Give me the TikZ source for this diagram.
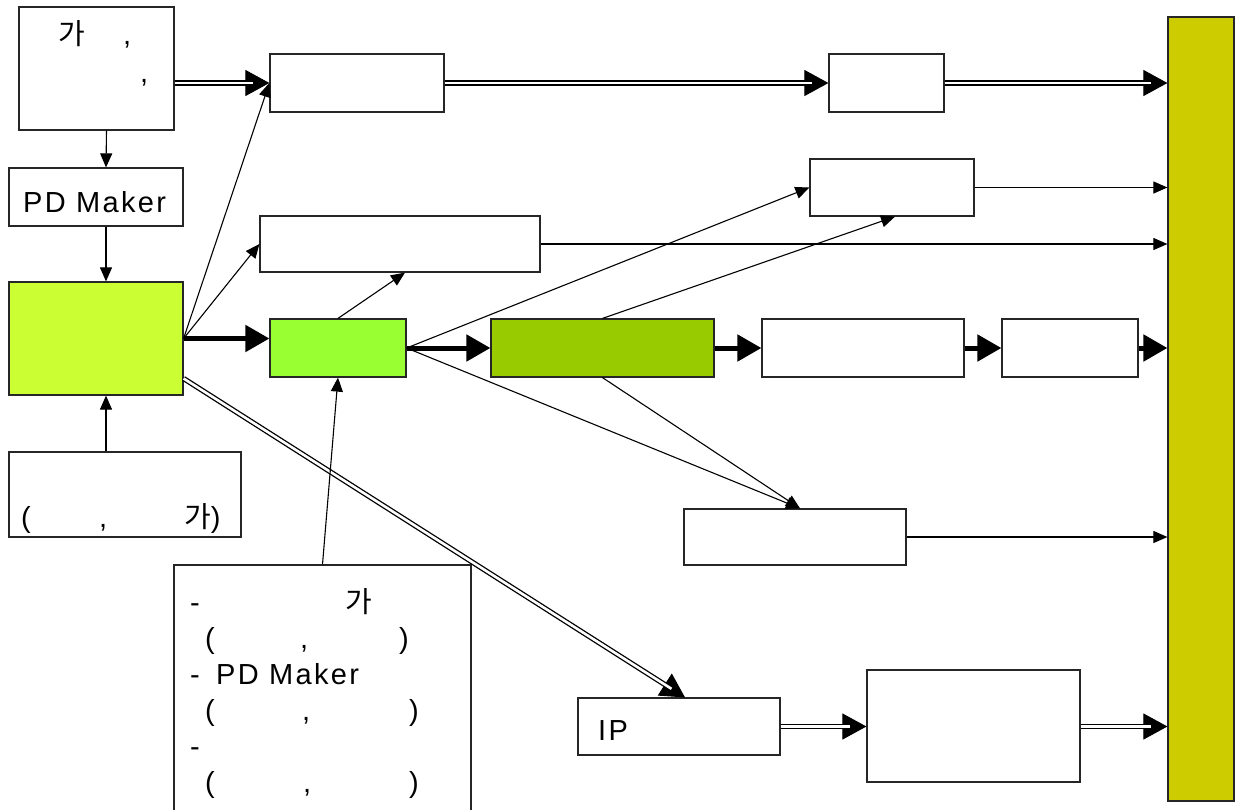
\documentclass[tikz,border=0pt]{standalone}
\usepackage{fontspec}
\setmainfont{Liberation Sans}
\newfontfamily\kr{Noto Sans CJK KR}
\usetikzlibrary{arrows.meta,calc}
\definecolor{cmain}{HTML}{CCFF33}
\definecolor{cgreen}{HTML}{99FF33}
\definecolor{cdark}{HTML}{99CC00}
\definecolor{cbar}{HTML}{CCCC00}
\tikzset{
  box/.style={draw=black!85, line width=1.2pt, fill=white, inner sep=0pt},
  conn/.style={line width=1.1pt, -{Triangle[length=14pt,width=12pt]}},
  heavy/.style={line width=5pt, -{Triangle[length=24pt,width=26pt]}},
  dbltip/.style={line width=1.1pt, -{Triangle[length=24pt,width=26pt]}},
  dblline/.style={double=white, double distance=2.6pt, line width=1.3pt},
  txt/.style={anchor=base west, inner sep=0pt, font=\fontsize{29}{33}\selectfont},
  sp/.style={font=\fontsize{29}{33}\selectfont\addfontfeature{LetterSpace=8}}
}
\newcommand\dblarr[2]{\draw[dbltip] #1 -- #2; \draw[dblline, shorten >=16pt] #1 -- #2;}
\begin{document}
\begin{tikzpicture}[x=1pt,y=-1pt]
\clip (0,0) rectangle (1236,809);
\fill[white] (0,0) rectangle (1236,809);
% boxes
\node[box, minimum width=155pt, minimum height=123pt] (A) at (96.5,68.5) {};
\node[box, minimum width=174pt, minimum height=58pt] (B) at (96,197) {};
\node[box, fill=cmain, minimum width=174pt, minimum height=113pt] (C) at (96,338.5) {};
\node[box, minimum width=232pt, minimum height=85pt] (D) at (125,494.5) {};
\node[box, minimum width=174pt, minimum height=58pt] (E) at (357,83) {};
\node[box, minimum width=280pt, minimum height=56pt] (F) at (400,244) {};
\node[box, fill=cgreen, minimum width=136pt, minimum height=58pt] (G) at (338,348) {};
\node[box, fill=cdark, minimum width=223pt, minimum height=58pt] (H) at (602.5,348) {};
\node[box, minimum width=202pt, minimum height=58pt] (I) at (863,348) {};
\node[box, minimum width=136pt, minimum height=58pt] (J) at (1070,348) {};
\node[box, minimum width=115pt, minimum height=58pt] (K) at (886.5,83) {};
\node[box, minimum width=164pt, minimum height=57pt] (L) at (892,187.5) {};
\node[box, minimum width=222pt, minimum height=56pt] (M) at (795,537) {};
\node[box, minimum width=202pt, minimum height=57pt] (N) at (679,726.5) {};
\node[box, minimum width=213pt, minimum height=112pt] (O) at (973.5,726) {};
\node[box, minimum width=297pt, minimum height=265pt] (P) at (322.5,697.5) {};
\node[box, fill=cbar, minimum width=66pt, minimum height=784pt] (Q) at (1201,409) {};
% texts
\node[txt] (a1) at (58,44) {\kr 가};
\node[txt] (a2) at (123,44) {,};
\node[txt] (a3) at (140,82) {,};
\node[txt, sp] (b1) at (23,212) {PD Maker};
\node[txt] (d1) at (21,527) {(};
\node[txt] (d2) at (99,527) {,};
\node[txt] (d3) at (184,527) {{\kr 가})};
\node[txt, sp] (n1) at (598,740) {IP};
\node[txt] (p1) at (190,612) {-};
\node[txt] (p2) at (345,612) {\kr 가};
\node[txt] (p3) at (205,648) {(};
\node[txt] (p4) at (300,648) {,};
\node[txt] (p5) at (399,648) {)};
\node[txt] (p6a) at (190,684) {-};
\node[txt, sp] (p6) at (216,684) {PD Maker};
\node[txt] (p7) at (205,720) {(};
\node[txt] (p8) at (302,720) {,};
\node[txt] (p9) at (409,720) {)};
\node[txt] (p10) at (190,756) {-};
\node[txt] (p11) at (205,792) {(};
\node[txt] (p12) at (303,792) {,};
\node[txt] (p13) at (409,792) {)};
% connectors
\coordinate (cs) at ([xshift=10pt]C.south);
\draw[conn] ([xshift=10pt]A.south) -- ([xshift=10pt]B.north);
\draw[conn] ([xshift=10pt]B.south) -- ([xshift=10pt]C.north);
\draw[conn] (D.north -| cs) -- (cs);
\dblarr{(A.east |- E.west)}{(E.west)}
\dblarr{(E.east)}{(K.west)}
\dblarr{(K.east)}{(Q.west |- K.east)}
\draw[conn] (C.east) -- (E.west);
\draw[conn] (C.east) -- (F.west);
\draw[heavy] (C.east) -- (C.east -| G.west);
\dblarr{([yshift=-40pt]C.east)}{([xshift=6pt]N.north)}
\draw[conn] (G.north) -- ([xshift=5pt]F.south);
\draw[conn] (P.north) -- (G.south);
\draw[heavy] (G.east) -- (H.west);
\draw[conn] (G.east) -- (L.west);
\draw[conn] (G.east) -- ([xshift=5pt]M.north);
\draw[conn] (H.north) -- ([xshift=3pt]L.south);
\draw[conn] (H.south) -- ([xshift=5pt]M.north);
\draw[heavy] (H.east) -- (I.west);
\draw[heavy] (I.east) -- (J.west);
\draw[heavy] (J.east) -- (Q.west |- J.east);
\draw[conn] (F.east) -- (Q.west |- F.east);
\draw[conn] (L.east) -- (Q.west |- L.east);
\draw[conn] (M.east) -- (Q.west |- M.east);
\dblarr{(N.east)}{(O.west |- N.east)}
\dblarr{(O.east |- N.east)}{(Q.west |- N.east)}
\end{tikzpicture}
\end{document}
